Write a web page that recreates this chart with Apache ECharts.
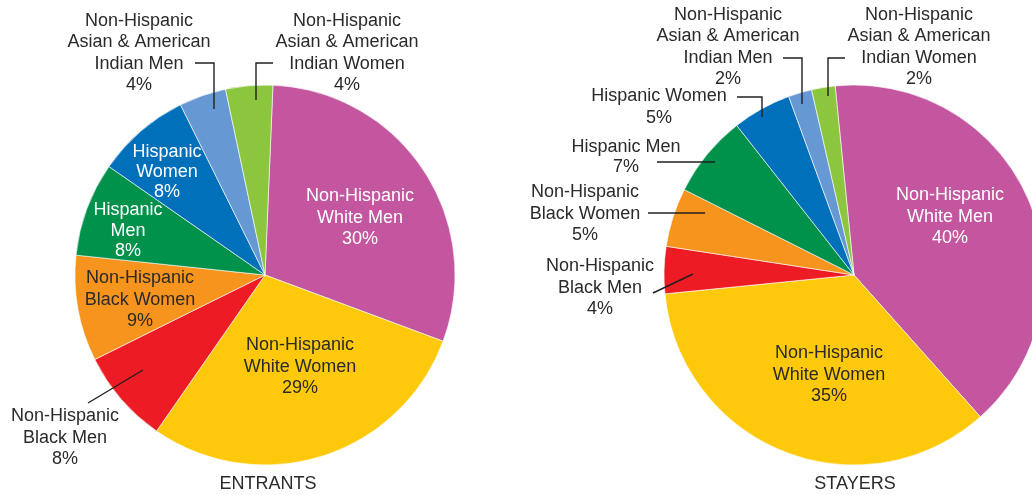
<!DOCTYPE html>
<html>
<head>
<meta charset="utf-8">
<script src="https://cdn.jsdelivr.net/npm/echarts@6/dist/echarts.min.js"></script>
<style>
  html, body { margin: 0; padding: 0; background: #fff; }
  #chart { width: 1032px; height: 495px; }
</style>
</head>
<body>
<div id="chart"></div>
<script>
// Groups, in slice order (clockwise from the top)
const categories = [
  'Non-Hispanic White Men',
  'Non-Hispanic White Women',
  'Non-Hispanic Black Men',
  'Non-Hispanic Black Women',
  'Hispanic Men',
  'Hispanic Women',
  'Non-Hispanic Asian & American Indian Men',
  'Non-Hispanic Asian & American Indian Women'
];

// Share of each group, percent
const entrantsShare = [30, 29, 8, 9, 8, 8, 4, 4];
const stayersShare  = [40, 35, 4, 5, 7, 5, 2, 2];

// Wrapped label text for each pie
const entrantsLabelText = [
  'Non-Hispanic\nWhite Men',
  'Non-Hispanic\nWhite Women',
  'Non-Hispanic\nBlack Men',
  'Non-Hispanic\nBlack Women',
  'Hispanic\nMen',
  'Hispanic\nWomen',
  'Non-Hispanic\nAsian & American\nIndian Men',
  'Non-Hispanic\nAsian & American\nIndian Women'
];
const stayersLabelText = [
  'Non-Hispanic\nWhite Men',
  'Non-Hispanic\nWhite Women',
  'Non-Hispanic\nBlack Men',
  'Non-Hispanic\nBlack Women',
  'Hispanic Men',
  'Hispanic Women',
  'Non-Hispanic\nAsian & American\nIndian Men',
  'Non-Hispanic\nAsian & American\nIndian Women'
];

const pieTitles = ['ENTRANTS', 'STAYERS'];

// ---- styling ----
const sliceColors = ['#C4569F', '#FFC90B', '#ED1C24', '#F7941D', '#00914A', '#0070BB', '#6699D3', '#8CC63F'];
const darkText = '#2a2a2a';
const FONT = '"Liberation Sans", Arial, Helvetica, sans-serif';

// label placement: centre of each text block, and leader-line points (if any)
const entrantsLayout = [
  { c: [360, 218], fill: '#fff' },
  { c: [300, 367], fill: darkText },
  { c: [65, 438],  fill: darkText, line: [[88, 403], [143, 370]] },
  { c: [140, 300], fill: darkText },
  { c: [128, 231], fill: '#fff', lh: 20.5 },
  { c: [167, 172], fill: '#fff', lh: 20 },
  { c: [139, 53],  fill: darkText, line: [[195, 63], [214, 63], [214, 109]] },
  { c: [347, 53],  fill: darkText, line: [[273, 63], [256, 63], [256, 100]] }
];
const stayersLayout = [
  { c: [950, 217], fill: '#fff' },
  { c: [829, 375], fill: darkText },
  { c: [600, 288], fill: darkText, line: [[653, 293], [693, 274]] },
  { c: [585, 214], fill: darkText, line: [[648, 213], [705, 213]] },
  { c: [626, 157], fill: darkText, lh: 20, line: [[657, 162], [715, 162]] },
  { c: [659, 107], fill: darkText, line: [[737, 97], [762, 97], [762, 117]] },
  { c: [728, 47],  fill: darkText, line: [[783, 58], [802, 58], [802, 104]] },
  { c: [919, 47],  fill: darkText, line: [[845, 58], [828, 58], [828, 96]] }
];

function buildData(values, layout) {
  return values.map((v, i) => ({
    name: categories[i],
    value: v,
    itemStyle: { color: sliceColors[i] },
    label: {
      color: layout[i].fill,
      lineHeight: layout[i].lh || 21.5
    }
  }));
}

function buildPie(values, labelText, layout, center, startAngle) {
  return {
    type: 'pie',
    center: center,
    radius: 190,
    startAngle: startAngle,
    clockwise: true,
    avoidLabelOverlap: false,
    silent: true,
    itemStyle: { borderColor: '#ffffff', borderWidth: 0.6 },
    label: {
      show: true,
      position: 'inside',
      fontFamily: FONT,
      fontSize: 18,
      align: 'center',
      formatter: p => labelText[p.dataIndex] + '\n' + p.value + '%'
    },
    labelLine: { show: false },
    labelLayout: params => {
      const L = layout[params.dataIndex];
      return { x: L.c[0], y: L.c[1], align: 'center', verticalAlign: 'middle' };
    },
    data: buildData(values, layout)
  };
}

// leader lines, drawn on top of the slices
function leaderLines(layout) {
  return layout.filter(L => L.line).map(L => ({
    type: 'polyline',
    z: 100,
    silent: true,
    shape: { points: L.line },
    style: { stroke: '#231F20', lineWidth: 1.4, fill: null }
  }));
}

const chart = echarts.init(document.getElementById('chart'), null, { renderer: 'canvas' });
chart.setOption({
  animation: false,
  backgroundColor: '#ffffff',
  series: [
    buildPie(entrantsShare, entrantsLabelText, entrantsLayout, [265, 275], 87.6),
    buildPie(stayersShare, stayersLabelText, stayersLayout, [854, 275], 95.7)
  ],
  graphic: [
    ...leaderLines(entrantsLayout),
    ...leaderLines(stayersLayout),
    { type: 'text', x: 268, y: 484, style: { text: pieTitles[0], font: '18px ' + FONT, fill: darkText, align: 'center', verticalAlign: 'middle' } },
    { type: 'text', x: 855, y: 484, style: { text: pieTitles[1], font: '18px ' + FONT, fill: darkText, align: 'center', verticalAlign: 'middle' } }
  ]
});
</script>
</body>
</html>
